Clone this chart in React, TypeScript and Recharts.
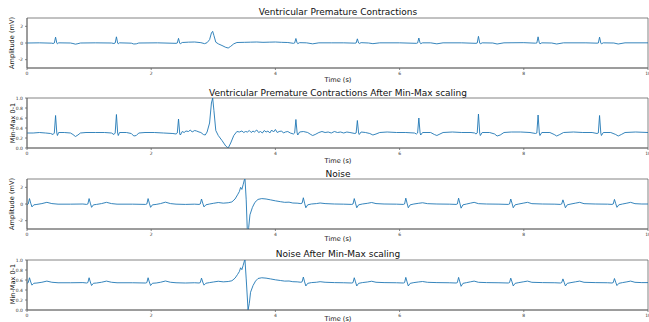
import { LineChart, Line, XAxis, YAxis, ReferenceArea } from 'recharts';

// time (s), value pairs
const vpcMv: [number, number][] = [
  [0, 0], [0.2, 0.02], [0.4, -0.02], [0.42, -0.06], [0.44, 0], [0.46, 0.7], [0.48, 0], [0.49, -0.1], [0.51, 0.02],
  [0.7, 0], [0.74, -0.06], [0.78, -0.14], [0.82, -0.08], [0.86, 0], [1.1, 0.02], [1.36, 0], [1.4, -0.06], [1.42, 0],
  [1.44, 0.74], [1.46, 0], [1.47, -0.1], [1.49, 0.02], [1.68, -0.02], [1.72, -0.12], [1.76, -0.1], [1.8, 0], [2.1, 0.02],
  [2.4, -0.04], [2.42, 0], [2.44, 0.56], [2.46, -0.04], [2.47, -0.08], [2.5, 0.06], [2.6, 0.1], [2.7, 0.12], [2.8, 0.04],
  [2.86, -0.08], [2.9, 0.04], [2.94, 0.4], [2.97, 1.2], [2.99, 1.4], [3.01, 0.9], [3.04, 0.1], [3.08, -0.1], [3.14, -0.3],
  [3.2, -0.52], [3.24, -0.6], [3.28, -0.4], [3.33, -0.1], [3.38, 0.06], [3.5, 0.08], [3.6, 0.1], [3.7, 0.12], [3.8, 0.08],
  [3.9, 0.1], [4.0, 0.12], [4.1, 0.08], [4.2, 0.06], [4.29, -0.04], [4.31, 0], [4.33, 0.54], [4.35, 0], [4.36, -0.08],
  [4.39, 0.04], [4.5, 0.02], [4.6, -0.1], [4.7, 0.02], [4.9, 0.02], [5.1, 0.02], [5.28, -0.02], [5.3, 0], [5.32, 0.5],
  [5.34, 0], [5.35, -0.06], [5.38, 0.04], [5.5, 0], [5.57, -0.08], [5.68, 0.02], [6.0, 0.02], [6.27, -0.04], [6.29, 0],
  [6.31, 0.6], [6.33, 0], [6.34, -0.08], [6.37, 0.02], [6.5, 0.02], [6.6, -0.1], [6.7, 0.02], [7.0, 0.02], [7.23, -0.04],
  [7.25, 0], [7.27, 0.8], [7.29, 0], [7.3, -0.1], [7.33, 0.02], [7.5, 0], [7.57, -0.12], [7.68, 0.02], [8.0, 0.04],
  [8.19, -0.02], [8.21, 0], [8.23, 0.74], [8.25, 0], [8.26, -0.1], [8.29, 0.02], [8.45, 0], [8.53, -0.12], [8.64, 0.02],
  [9.0, 0.02], [9.18, -0.02], [9.2, 0], [9.22, 0.7], [9.24, 0], [9.25, -0.1], [9.28, 0.02], [9.45, 0], [9.52, -0.12],
  [9.63, 0.02], [10, 0.02],
];

const vpcScaled: [number, number][] = [
  [0, 0.3], [0.1, 0.3], [0.2, 0.31], [0.3, 0.3], [0.38, 0.29], [0.42, 0.27], [0.44, 0.3], [0.46, 0.65], [0.48, 0.3],
  [0.49, 0.25], [0.51, 0.31], [0.6, 0.31], [0.7, 0.3], [0.74, 0.27], [0.78, 0.23], [0.82, 0.26], [0.86, 0.3], [0.95, 0.31],
  [1.1, 0.31], [1.25, 0.31], [1.36, 0.3], [1.4, 0.27], [1.42, 0.3], [1.44, 0.67], [1.46, 0.3], [1.47, 0.25], [1.49, 0.31],
  [1.6, 0.31], [1.68, 0.29], [1.72, 0.24], [1.76, 0.25], [1.8, 0.3], [1.9, 0.31], [2.05, 0.31], [2.2, 0.3], [2.35, 0.29],
  [2.4, 0.28], [2.42, 0.3], [2.44, 0.58], [2.46, 0.28], [2.47, 0.26], [2.5, 0.33], [2.53, 0.31], [2.56, 0.34], [2.6, 0.33],
  [2.63, 0.36], [2.66, 0.32], [2.7, 0.35], [2.73, 0.34], [2.77, 0.32], [2.8, 0.31], [2.84, 0.27], [2.87, 0.26], [2.9, 0.32],
  [2.94, 0.5], [2.97, 0.9], [2.99, 1.0], [3.01, 0.75], [3.04, 0.35], [3.08, 0.25], [3.14, 0.15], [3.2, 0.04], [3.24, 0.0],
  [3.28, 0.1], [3.33, 0.25], [3.38, 0.33], [3.42, 0.32], [3.46, 0.34], [3.49, 0.31], [3.52, 0.33], [3.55, 0.32],
  [3.58, 0.35], [3.61, 0.31], [3.64, 0.34], [3.66, 0.32], [3.7, 0.36], [3.73, 0.31], [3.76, 0.33], [3.79, 0.3], [3.82, 0.35],
  [3.85, 0.32], [3.88, 0.34], [3.91, 0.3], [3.94, 0.36], [3.97, 0.32], [4.0, 0.37], [4.03, 0.31], [4.06, 0.33],
  [4.1, 0.34], [4.13, 0.3], [4.16, 0.32], [4.2, 0.33], [4.24, 0.3], [4.29, 0.28], [4.31, 0.3], [4.33, 0.57], [4.35, 0.3],
  [4.36, 0.26], [4.39, 0.32], [4.45, 0.33], [4.52, 0.31], [4.57, 0.27], [4.6, 0.25], [4.64, 0.27], [4.7, 0.31], [4.75, 0.33],
  [4.8, 0.31], [4.85, 0.32], [4.9, 0.3], [4.95, 0.33], [5.0, 0.31], [5.05, 0.32], [5.1, 0.3], [5.15, 0.32], [5.2, 0.31],
  [5.28, 0.29], [5.3, 0.3], [5.32, 0.55], [5.34, 0.3], [5.35, 0.27], [5.38, 0.32], [5.45, 0.31], [5.52, 0.29], [5.57, 0.26],
  [5.62, 0.28], [5.68, 0.31], [5.8, 0.32], [5.95, 0.31], [6.1, 0.31], [6.24, 0.3], [6.27, 0.28], [6.29, 0.3], [6.31, 0.6],
  [6.33, 0.3], [6.34, 0.26], [6.37, 0.31], [6.5, 0.31], [6.56, 0.27], [6.6, 0.25], [6.65, 0.28], [6.7, 0.31], [6.85, 0.32],
  [7.0, 0.31], [7.15, 0.31], [7.21, 0.3], [7.23, 0.28], [7.25, 0.3], [7.27, 0.68], [7.29, 0.3], [7.3, 0.25], [7.33, 0.31],
  [7.45, 0.31], [7.53, 0.28], [7.57, 0.24], [7.62, 0.26], [7.68, 0.31], [7.8, 0.32], [7.95, 0.32], [8.1, 0.31], [8.19, 0.29],
  [8.21, 0.3], [8.23, 0.66], [8.25, 0.3], [8.26, 0.25], [8.29, 0.31], [8.42, 0.31], [8.49, 0.27], [8.53, 0.24], [8.58, 0.27],
  [8.64, 0.31], [8.8, 0.32], [8.95, 0.31], [9.1, 0.31], [9.18, 0.29], [9.2, 0.3], [9.22, 0.65], [9.24, 0.3], [9.25, 0.25],
  [9.28, 0.31], [9.4, 0.31], [9.48, 0.27], [9.52, 0.24], [9.57, 0.27], [9.63, 0.31], [9.8, 0.32], [10, 0.31],
];

const noiseMv: [number, number][] = [
  [0, -0.1], [0.02, 0], [0.04, 0.65], [0.06, 0.1], [0.08, -0.35], [0.11, -0.1], [0.16, -0.05], [0.24, 0.05], [0.32, 0.2],
  [0.4, 0.05], [0.5, -0.02], [0.7, -0.02], [0.9, 0], [0.96, -0.05], [0.98, 0], [1.0, 0.65], [1.02, 0.1], [1.04, -0.4],
  [1.07, -0.1], [1.12, -0.05], [1.2, 0.05], [1.28, 0.2], [1.36, 0.05], [1.45, -0.02], [1.7, -0.02], [1.91, -0.05], [1.93, 0],
  [1.95, 0.65], [1.97, 0.1], [1.99, -0.4], [2.02, -0.1], [2.08, -0.05], [2.15, 0.05], [2.23, 0.22], [2.31, 0.05], [2.4, -0.02],
  [2.55, -0.05], [2.7, -0.02], [2.77, -0.05], [2.79, 0], [2.81, 0.6], [2.83, 0.1], [2.85, -0.35], [2.88, -0.1], [2.94, 0],
  [3.0, 0.08], [3.08, 0.18], [3.16, 0.1], [3.24, 0.15], [3.3, 0.25], [3.35, 0.6], [3.39, 1.1], [3.42, 1.5], [3.44, 2.0],
  [3.46, 1.75], [3.48, 2.3], [3.5, 2.9], [3.51, 3.05], [3.53, 0.5], [3.55, -3.7], [3.57, -2.8], [3.59, -1.3], [3.63, -0.4],
  [3.67, 0.2], [3.72, 0.55], [3.78, 0.65], [3.85, 0.6], [3.92, 0.5], [4.0, 0.38], [4.08, 0.28], [4.15, 0.2], [4.22, 0.22],
  [4.28, 0.12], [4.35, 0.1], [4.41, 0.05], [4.43, 0.1], [4.45, 0.75], [4.47, 0.1], [4.49, -0.45], [4.52, -0.1], [4.58, 0],
  [4.66, 0.05], [4.72, 0.12], [4.8, 0.05], [4.95, 0], [5.1, -0.02], [5.23, -0.05], [5.25, 0], [5.27, 0.65], [5.29, 0.1],
  [5.31, -0.45], [5.34, -0.1], [5.4, 0], [5.48, 0.08], [5.55, 0.18], [5.62, 0.05], [5.75, 0], [5.95, -0.02], [6.06, -0.05],
  [6.08, 0], [6.1, 0.7], [6.12, 0.1], [6.14, -0.45], [6.17, -0.1], [6.23, 0], [6.3, 0.08], [6.37, 0.15], [6.45, 0.04],
  [6.6, 0], [6.8, -0.02], [6.91, -0.05], [6.93, 0], [6.95, 0.7], [6.97, 0.1], [6.99, -0.5], [7.02, -0.1], [7.08, 0],
  [7.14, 0.1], [7.2, 0.2], [7.27, 0.04], [7.4, 0], [7.6, -0.02], [7.75, -0.05], [7.77, 0], [7.79, 0.6], [7.81, 0.1],
  [7.83, -0.45], [7.86, -0.1], [7.92, 0], [7.99, 0.1], [8.06, 0.2], [8.13, 0.04], [8.3, 0], [8.5, -0.02], [8.59, -0.05],
  [8.61, 0], [8.63, 0.5], [8.65, 0.05], [8.67, -0.45], [8.7, -0.1], [8.76, 0], [8.83, 0.1], [8.9, 0.2], [8.97, 0.04],
  [9.15, 0], [9.35, -0.02], [9.42, -0.05], [9.44, 0], [9.46, 0.55], [9.48, 0.05], [9.5, -0.4], [9.53, -0.1], [9.59, 0],
  [9.66, 0.1], [9.72, 0.2], [9.79, 0.04], [9.9, 0], [10, 0],
];

const noiseScaled: [number, number][] = [
  [0, 0.535], [0.02, 0.548], [0.04, 0.645], [0.06, 0.56], [0.08, 0.497], [0.11, 0.535], [0.16, 0.54], [0.24, 0.555],
  [0.32, 0.578], [0.4, 0.555], [0.5, 0.545], [0.7, 0.545], [0.9, 0.548], [0.96, 0.54], [0.98, 0.548], [1.0, 0.645],
  [1.02, 0.56], [1.04, 0.49], [1.07, 0.535], [1.12, 0.54], [1.2, 0.555], [1.28, 0.578], [1.36, 0.555], [1.45, 0.545],
  [1.7, 0.545], [1.91, 0.54], [1.93, 0.548], [1.95, 0.645], [1.97, 0.56], [1.99, 0.49], [2.02, 0.535], [2.08, 0.54],
  [2.15, 0.555], [2.23, 0.58], [2.31, 0.555], [2.4, 0.545], [2.55, 0.54], [2.7, 0.545], [2.77, 0.54], [2.79, 0.548],
  [2.81, 0.637], [2.83, 0.56], [2.85, 0.497], [2.88, 0.535], [2.94, 0.548], [3.0, 0.56], [3.08, 0.575], [3.16, 0.563],
  [3.24, 0.57], [3.3, 0.585], [3.35, 0.637], [3.39, 0.71], [3.42, 0.77], [3.44, 0.845], [3.46, 0.807], [3.48, 0.889],
  [3.5, 0.978], [3.51, 1.0], [3.53, 0.622], [3.56, 0.0], [3.58, 0.133], [3.6, 0.355], [3.64, 0.489], [3.68, 0.578],
  [3.72, 0.63], [3.78, 0.645], [3.85, 0.637], [3.92, 0.622], [4.0, 0.604], [4.08, 0.59], [4.15, 0.578], [4.22, 0.58],
  [4.28, 0.566], [4.35, 0.563], [4.41, 0.555], [4.43, 0.563], [4.45, 0.659], [4.47, 0.563], [4.49, 0.481], [4.52, 0.533],
  [4.58, 0.548], [4.66, 0.555], [4.72, 0.566], [4.8, 0.555], [4.95, 0.548], [5.1, 0.545], [5.23, 0.54], [5.25, 0.548],
  [5.27, 0.645], [5.29, 0.563], [5.31, 0.481], [5.34, 0.533], [5.4, 0.548], [5.48, 0.56], [5.55, 0.575], [5.62, 0.555],
  [5.75, 0.548], [5.95, 0.545], [6.06, 0.54], [6.08, 0.548], [6.1, 0.652], [6.12, 0.563], [6.14, 0.481], [6.17, 0.533],
  [6.23, 0.548], [6.3, 0.56], [6.37, 0.57], [6.45, 0.554], [6.6, 0.548], [6.8, 0.545], [6.91, 0.54], [6.93, 0.548],
  [6.95, 0.652], [6.97, 0.563], [6.99, 0.474], [7.02, 0.533], [7.08, 0.548], [7.14, 0.563], [7.2, 0.578], [7.27, 0.554],
  [7.4, 0.548], [7.6, 0.545], [7.75, 0.54], [7.77, 0.548], [7.79, 0.637], [7.81, 0.563], [7.83, 0.481], [7.86, 0.533],
  [7.92, 0.548], [7.99, 0.563], [8.06, 0.578], [8.13, 0.554], [8.3, 0.548], [8.5, 0.545], [8.59, 0.54], [8.61, 0.548],
  [8.63, 0.622], [8.65, 0.555], [8.67, 0.481], [8.7, 0.533], [8.76, 0.548], [8.83, 0.563], [8.9, 0.578], [8.97, 0.554],
  [9.15, 0.548], [9.35, 0.545], [9.42, 0.54], [9.44, 0.548], [9.46, 0.63], [9.48, 0.555], [9.5, 0.489], [9.53, 0.533],
  [9.59, 0.548], [9.66, 0.563], [9.72, 0.578], [9.79, 0.554], [9.9, 0.548], [10, 0.548],
];

const timeTicks = [0, 2, 4, 6, 8, 10];
const mvTicks = [-2, 0, 2];
const scaledTicks = [0, 0.2, 0.4, 0.6, 0.8, 1.0];

const font = '"DejaVu Sans", sans-serif';
const blue = '#1f77b4';
const spine = '#666';

type PanelProps = {
  top: number;
  series: [number, number][];
  domain: [number, number];
  ticks: number[];
  fmt: (v: number) => string;
};

function Panel({ top, series, domain, ticks, fmt }: PanelProps) {
  const data = series.map(([t, v]) => ({ t, v }));
  const tick = { fontSize: 4.5, fill: '#333', fontFamily: font };
  return (
    <div style={{ position: 'absolute', left: 0, top: top - 5 }}>
      <LineChart width={649} height={65} data={data} margin={{ top: 5, right: 1, left: 0, bottom: 0 }}>
        <XAxis dataKey="t" type="number" domain={[0, 10]} ticks={timeTicks} allowDataOverflow
          tick={tick} tickSize={2} height={10} stroke={spine} strokeWidth={0.8} interval={0} />
        <YAxis type="number" domain={domain} ticks={ticks} allowDataOverflow tickFormatter={fmt}
          tick={tick} tickSize={2} width={27} stroke={spine} strokeWidth={0.8} interval={0} />
        {/* matplotlib-style box around the axes */}
        <ReferenceArea x1={0} x2={10} y1={domain[0]} y2={domain[1]} fill="none" stroke={spine} strokeWidth={0.8} />
        <Line dataKey="v" type="linear" stroke={blue} strokeWidth={0.9} dot={false} isAnimationActive={false} />
      </LineChart>
    </div>
  );
}

function Text({ x, y, size, children, rotate = false }: { x: number; y: number; size: number; children: string; rotate?: boolean }) {
  return (
    <div style={{
      position: 'absolute', left: x, top: y, fontSize: size, fontFamily: font, color: '#111', lineHeight: 1,
      whiteSpace: 'nowrap', transform: `translate(-50%, -50%)${rotate ? ' rotate(-90deg)' : ''}`,
    }}>{children}</div>
  );
}

const mvFmt = (v: number) => String(v);
const scaledFmt = (v: number) => v.toFixed(1);

export default function App() {
  return (
    <div style={{ position: 'absolute', left: 0, top: 0, width: 649, height: 322, background: '#fff', overflow: 'hidden' }}>
      <Text x={338} y={12} size={9}>Ventricular Premature Contractions</Text>
      <Panel top={18} series={vpcMv} domain={[-3, 3]} ticks={mvTicks} fmt={mvFmt} />
      <Text x={338} y={80} size={6.6}>Time (s)</Text>
      <Text x={12} y={43} size={6.6} rotate>Amplitude (mV)</Text>

      <Text x={338} y={93} size={9}>Ventricular Premature Contractions After Min-Max scaling</Text>
      <Panel top={98} series={vpcScaled} domain={[0, 1]} ticks={scaledTicks} fmt={scaledFmt} />
      <Text x={338} y={160.5} size={6.6}>Time (s)</Text>
      <Text x={12.5} y={123} size={6.6} rotate>Min-Max 0-1</Text>

      <Text x={338} y={173.5} size={9}>Noise</Text>
      <Panel top={179} series={noiseMv} domain={[-3, 3]} ticks={mvTicks} fmt={mvFmt} />
      <Text x={338} y={238.5} size={6.6}>Time (s)</Text>
      <Text x={12} y={204} size={6.6} rotate>Amplitude (mV)</Text>

      <Text x={338} y={254} size={9}>Noise After Min-Max scaling</Text>
      <Panel top={260} series={noiseScaled} domain={[0, 1]} ticks={scaledTicks} fmt={scaledFmt} />
      <Text x={338} y={319} size={6.6}>Time (s)</Text>
      <Text x={12.5} y={284} size={6.6} rotate>Min-Max 0-1</Text>
    </div>
  );
}
